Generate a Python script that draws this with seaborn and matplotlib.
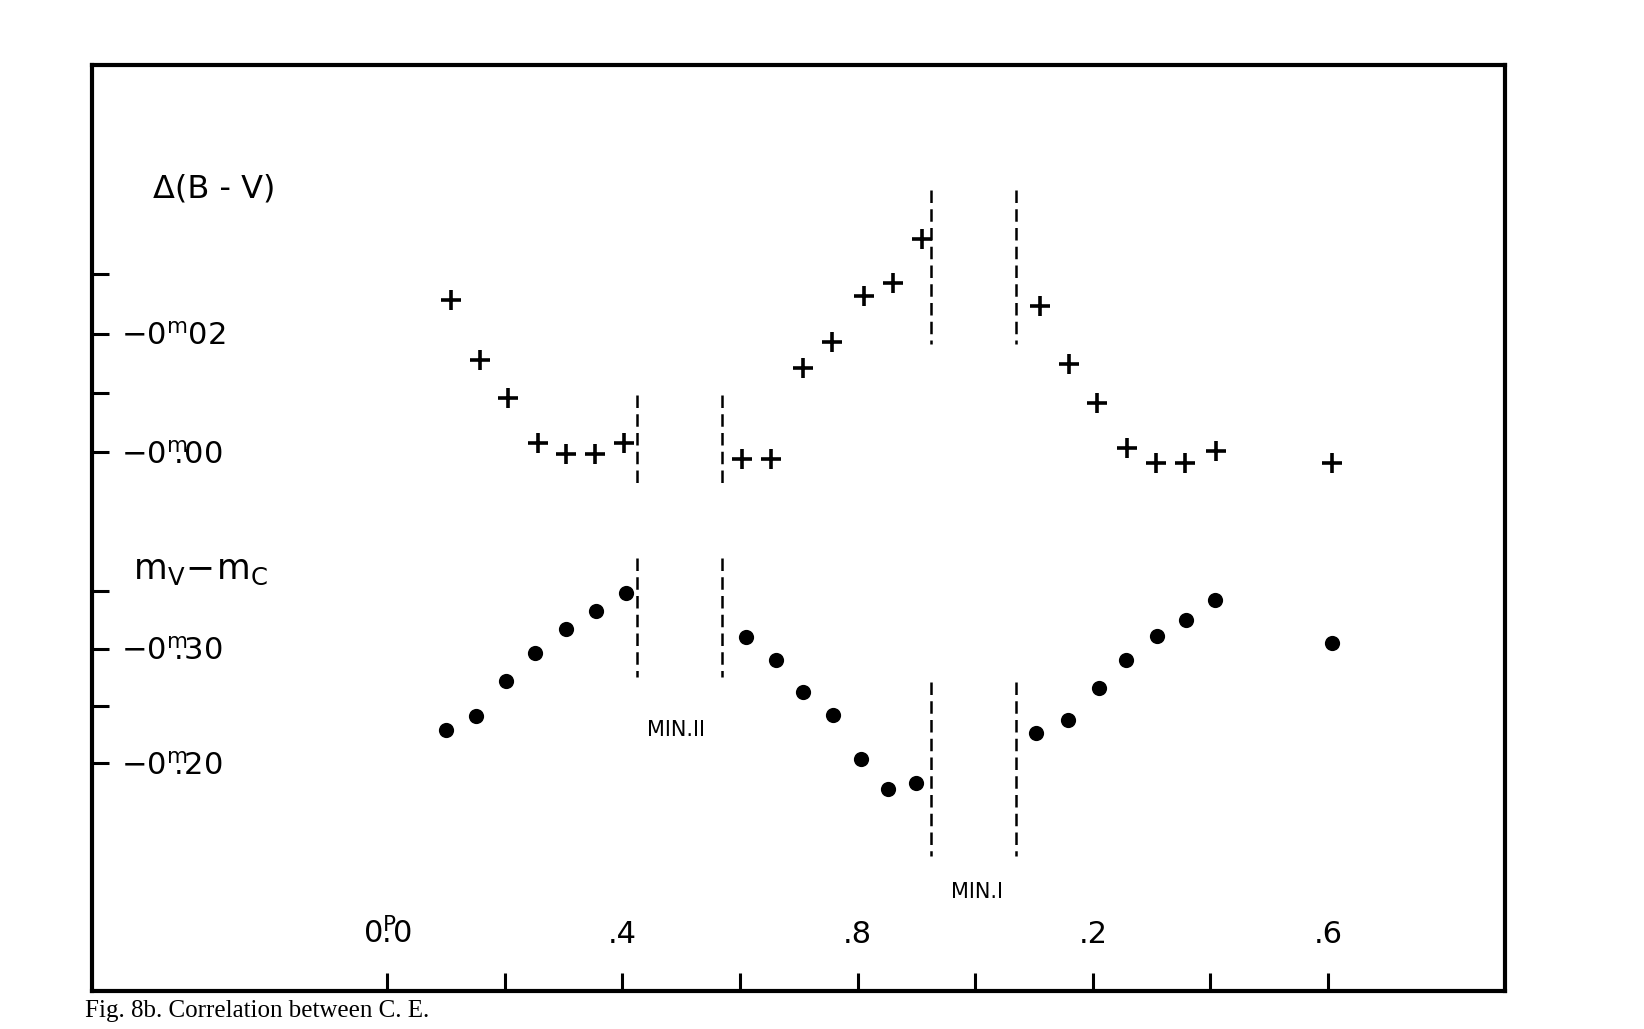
import numpy as np
import pandas as pd
import matplotlib
matplotlib.use("Agg")
import matplotlib.pyplot as plt
import seaborn as sns

# phase / colour / magnitude values
bv_phase = [0.108, 0.157, 0.205, 0.256, 0.304, 0.353, 0.402, 0.604, 0.652, 0.707,
            0.757, 0.811, 0.861, 0.909, 1.111, 1.159, 1.207, 1.259, 1.307, 1.357,
            1.409, 1.607]
bv_value = [-0.0257, -0.0155, -0.0092, -0.0015, 0.0003, 0.0004, -0.0016, 0.0012,
            0.0012, -0.0142, -0.0186, -0.0264, -0.0285, -0.0359, -0.0246, -0.0149,
            -0.0083, -0.0007, 0.0019, 0.0019, -0.0002, 0.0019]

mc_phase = [0.100, 0.151, 0.202, 0.252, 0.304, 0.355, 0.406, 0.610, 0.661, 0.708,
            0.758, 0.806, 0.852, 0.900, 1.104, 1.157, 1.211, 1.257, 1.309, 1.359,
            1.408, 1.606]
mc_value = [-0.229, -0.241, -0.272, -0.296, -0.317, -0.333, -0.348, -0.310, -0.290,
            -0.262, -0.242, -0.204, -0.178, -0.183, -0.226, -0.238, -0.266, -0.290,
            -0.311, -0.325, -0.342, -0.305]

# eclipse windows (dashed lines)
min2_phase = [0.425, 0.57]
min1_phase = [0.925, 1.07]
min2_bv_span = [-0.0097, 0.0053]
min1_bv_span = [-0.0442, -0.0182]
min2_mc_span = [-0.379, -0.275]
min1_mc_span = [-0.271, -0.119]

x_ticks = [0.0, 0.2, 0.4, 0.6, 0.8, 1.0, 1.2, 1.4, 1.6]
x_labels = [r"$0^{\mathrm{P}}\!\!\!.\!0$", "", ".4", "", ".8", "", ".2", "", ".6"]
bv_ticks = [-0.03, -0.02, -0.01, 0.00]
bv_labels = ["", r"$-0^{\mathrm{m}}02$", "", r"$-0^{\mathrm{m}}\!\!\!.\!00$"]
mc_ticks = [-0.35, -0.30, -0.25, -0.20]
mc_labels = ["", r"$-0^{\mathrm{m}}\!\!\!.\!30$", "", r"$-0^{\mathrm{m}}\!\!\!.\!20$"]

sns.set_style("white")
plt.rcParams["font.family"] = ["DejaVu Sans"]
plt.rcParams["text.color"] = "black"

df_bv = pd.DataFrame({"phase": bv_phase, "dbv": bv_value})
df_mc = pd.DataFrame({"phase": mc_phase, "dm": mc_value})

fig = plt.figure(figsize=(16.44, 10.29), dpi=100)
rect = [92 / 1644, 1 - 991 / 1029, (1505 - 92) / 1644, (991 - 65) / 1029]
ax = fig.add_axes(rect)
ax2 = fig.add_axes(rect, sharex=ax)
ax2.patch.set_visible(False)

# upper panel: colour difference
sns.scatterplot(data=df_bv, x="phase", y="dbv", ax=ax, marker="+", color="black",
                s=190, linewidth=2.6, legend=False)
ax.vlines(min2_phase, min2_bv_span[0], min2_bv_span[1], colors="black",
          linestyles=(0, (5, 2.5)), linewidth=1.8)
ax.vlines(min1_phase, min1_bv_span[0], min1_bv_span[1], colors="black",
          linestyles=(0, (5, 2.5)), linewidth=1.8)

# lower panel: magnitude difference
sns.scatterplot(data=df_mc, x="phase", y="dm", ax=ax2, marker="o", color="black",
                s=120, edgecolor="black", linewidth=0, legend=False)
ax2.vlines(min2_phase, min2_mc_span[0], min2_mc_span[1], colors="black",
           linestyles=(0, (5, 2.5)), linewidth=1.8)
ax2.vlines(min1_phase, min1_mc_span[0], min1_mc_span[1], colors="black",
           linestyles=(0, (5, 2.5)), linewidth=1.8)

ax.set_xlim(-0.502, 1.901)
ax.set_ylim(0.0909, -0.0653)
ax2.set_ylim(-0.0017, -0.8082)

for a in (ax, ax2):
    a.set_xlabel("")
    a.set_ylabel("")

for side in ["left", "right", "top", "bottom"]:
    ax.spines[side].set_linewidth(3)
    ax.spines[side].set_color("black")
    ax2.spines[side].set_visible(False)

ax.set_xticks(x_ticks)
ax.set_xticklabels(x_labels)
ax.tick_params(axis="x", direction="in", length=13, width=2.2, pad=-30,
               labelsize=22, colors="black", bottom=True)
plt.setp(ax.get_xticklabels(), va="bottom")

ax.set_yticks(bv_ticks)
ax.set_yticklabels(bv_labels)
ax.tick_params(axis="y", direction="in", length=12, width=2.2, pad=-21,
               labelsize=22, colors="black", left=True)
plt.setp(ax.get_yticklabels(), ha="left")

ax2.set_yticks(mc_ticks)
ax2.set_yticklabels(mc_labels)
ax2.tick_params(axis="y", direction="in", length=12, width=2.2, pad=-21,
                labelsize=22, colors="black", left=True)
plt.setp(ax2.get_yticklabels(), ha="left")
ax2.tick_params(axis="x", bottom=False, labelbottom=False)

ax.text(0.043, 0.866, "Δ(B - V)", transform=ax.transAxes, fontsize=23,
        va="center", ha="left")
ax.text(0.029, 0.455, r"$\mathrm{m_V\!-\!m_C}$", transform=ax.transAxes,
        fontsize=25, va="center", ha="left")
ax2.text(0.491, -0.229, "MIN.II", fontsize=15, ha="center", va="center")
ax2.text(1.003, -0.088, "MIN.I", fontsize=15, ha="center", va="center")

fig.text(85 / 1644, 1 - 1000 / 1029, "Fig. 8b. Correlation between C. E.",
         fontsize=18, va="top", ha="left", family=["Liberation Serif"])

plt.savefig("out.png", dpi=100)
plt.close()
